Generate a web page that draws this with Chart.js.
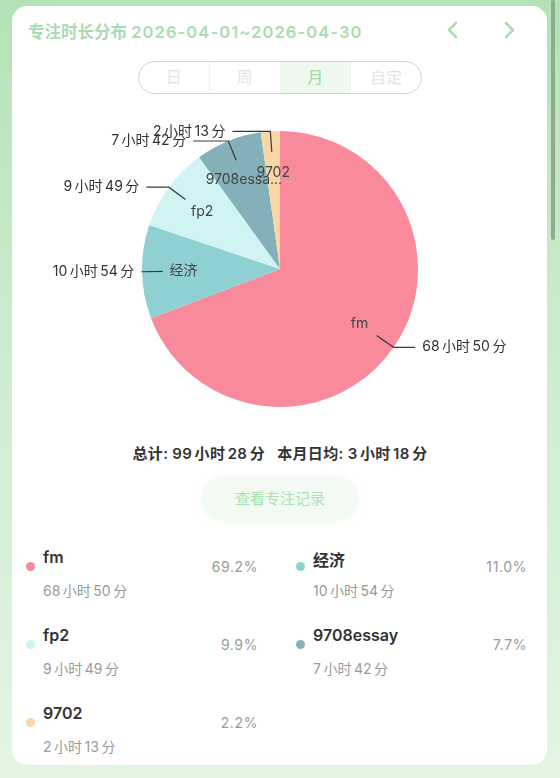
<!DOCTYPE html>
<html>
<head>
<meta charset="utf-8">
<script src="https://cdn.jsdelivr.net/npm/chart.js@4.4.1/dist/chart.umd.min.js"></script>
<style>
  html, body { margin: 0; padding: 0; }
  body {
    width: 560px; height: 778px; overflow: hidden; position: relative;
    background: linear-gradient(180deg, #b4e2b7 0%, #cdeccf 45%, #e4f5e4 100%);
    font-family: Inter, "Noto Sans CJK SC", sans-serif;
  }
  .card {
    position: absolute; left: 12px; top: 6px; width: 535px; height: 759px;
    background: #fff; border-radius: 15px;
  }
  .scrollbar {
    position: absolute; left: 551px; top: 0; width: 4px; height: 240px;
    background: #8fab91; border-radius: 2px;
  }
  .title {
    position: absolute; left: 28px; top: 19px; font-size: 16.5px; font-weight: 600;
    color: #a9dcb0; white-space: nowrap;
  }
  .title .date { letter-spacing: 1.1px; }
  .arrow { position: absolute; top: 21px; }
  .seg {
    position: absolute; left: 138px; top: 61px; width: 282px; height: 31px;
    border: 1px solid #bfe3c2; border-radius: 17px; overflow: hidden; display: flex;
  }
  .seg div {
    flex: 1; text-align: center; line-height: 31px; font-size: 16px; color: #e2e6e2;
    border-left: 1px solid #edf3ed;
  }
  .seg div:first-child { border-left: none; }
  .seg div.on { background: #eef8ef; color: #a6d6ac; }
  #chartBox { position: absolute; left: 0; top: 109px; width: 560px; height: 320px; }
  .total {
    position: absolute; left: 0; width: 560px; top: 442px; text-align: center;
    font-size: 15px; font-weight: 600; color: #333; white-space: pre; letter-spacing: 0.3px;
  }
  .btn {
    position: absolute; left: 203px; top: 478px; width: 154px; height: 42px;
    border-radius: 21px; background: #f3faf3; color: #ade0b3; font-size: 15px;
    text-align: center; line-height: 42px; box-shadow: 0 0 6px rgba(220, 240, 220, 0.7);
  }
  .item { position: absolute; width: 240px; height: 70px; }
  .item .dot { position: absolute; left: 0; width: 9px; height: 9px; border-radius: 50%; }
  .item .name { position: absolute; left: 17px; font-size: 16px; font-weight: 600; color: #333; }
  .item .time { position: absolute; left: 17px; font-size: 14px; color: #9a9a9a; white-space: nowrap; }
  .item .pct { position: absolute; font-size: 14px; color: #9a9a9a; text-align: right; letter-spacing: 0.6px; }
</style>
</head>
<body>
<div class="card"></div>
<div class="scrollbar"></div>
<div class="title"><span>专注时长分布</span> <span class="date">2026-04-01~2026-04-30</span></div>
<svg class="arrow" style="left:446px" width="14" height="18"><polyline points="10,2 3,9 10,16" fill="none" stroke="#a9dcb0" stroke-width="2.5" stroke-linecap="round" stroke-linejoin="round"/></svg>
<svg class="arrow" style="left:502px" width="14" height="18"><polyline points="4,2 11,9 4,16" fill="none" stroke="#a9dcb0" stroke-width="2.5" stroke-linecap="round" stroke-linejoin="round"/></svg>
<div class="seg" id="seg"></div>
<div id="chartBox"><canvas id="pieChart" width="560" height="320"></canvas></div>
<div class="total" id="total"></div>
<div class="btn">查看专注记录</div>
<div id="legend"></div>

<script>
// data (minutes per subject)
const categories = ["fm", "经济", "fp2", "9708essay", "9702"];
const minutes = [4130, 654, 589, 462, 133];
const colors = ["#f88a9c", "#8fd1d2", "#cff4f3", "#84b1b9", "#f8d6a5"];
const tabs = ["日", "周", "月", "自定"];
const activeTab = "月";
const daysInMonth = 30;

function fmt(m) {
  return Math.floor(m / 60) + "小时" + (m % 60) + "分";
}
// same text, but with the little gap iOS puts between digits and CJK
function fmtHTML(m) {
  return '<span style="margin-right:2.5px">' + Math.floor(m / 60) + '</span>小时' +
    '<span style="margin:0 2.5px">' + (m % 60) + '</span>分';
}
function shortName(s) {
  return s.length > 8 ? s.slice(0, 8) + "..." : s;
}

const totalMin = minutes.reduce((a, b) => a + b, 0);

// tabs
const seg = document.getElementById("seg");
tabs.forEach(function (t) {
  const d = document.createElement("div");
  d.textContent = t;
  if (t === activeTab) d.className = "on";
  seg.appendChild(d);
});

document.getElementById("total").innerHTML =
  "总计: " + fmtHTML(totalMin) + '<span style="margin-right:4px">  </span>本月日均: ' +
  fmtHTML(Math.floor(totalMin / daysInMonth));

// legend list below the pie
const legend = document.getElementById("legend");
categories.forEach(function (name, i) {
  const col = i % 2, row = Math.floor(i / 2);
  const item = document.createElement("div");
  item.className = "item";
  item.style.left = (26 + col * 270) + "px";
  item.style.top = (545 + row * 78) + "px";
  const pct = (minutes[i] / totalMin * 100).toFixed(1) + "%";
  item.innerHTML =
    '<div class="dot" style="top:17px;background:' + colors[i] + '"></div>' +
    '<div class="name" style="top:2px">' + name + '</div>' +
    '<div class="time" style="top:35px">' + fmtHTML(minutes[i]) + '</div>' +
    '<div class="pct" style="right:' + (col ? 9 : 8) + 'px;top:13px">' + pct + '</div>';
  legend.appendChild(item);
});

// draw text with small gaps between digit runs and CJK
function drawSpaced(ctx, text, x, y, align) {
  const gap = 2.5;
  const parts = text.split(/(\d+)/).filter(Boolean);
  const widths = parts.map((p) => ctx.measureText(p).width);
  const total = widths.reduce((a, b) => a + b, 0) + gap * (parts.length - 1);
  let cx = align === "right" ? x - total : x;
  ctx.textAlign = "left";
  parts.forEach(function (p, k) {
    ctx.fillText(p, cx, y);
    cx += widths[k] + gap;
  });
}

// names inside the slices, times outside with leader lines
const sliceLabels = {
  id: "sliceLabels",
  afterDatasetsDraw(chart) {
    const ctx = chart.ctx;
    const arcs = chart.getDatasetMeta(0).data;
    ctx.save();
    ctx.font = '14px Inter, "Noto Sans CJK SC", sans-serif';
    ctx.textBaseline = "middle";
    ctx.strokeStyle = "#3a3a3a";
    ctx.lineWidth = 1.2;
    arcs.forEach(function (arc, i) {
      const p = arc.getProps(["x", "y", "startAngle", "endAngle", "outerRadius"], true);
      const mid = (p.startAngle + p.endAngle) / 2;
      const cos = Math.cos(mid), sin = Math.sin(mid);
      const r = p.outerRadius;

      ctx.fillStyle = "#444";
      ctx.textAlign = "center";
      ctx.fillText(shortName(categories[i]), p.x + cos * r * 0.7, p.y + sin * r * 0.7);

      const dir = cos >= 0 ? 1 : -1;
      const x1 = p.x + cos * r * 0.85, y1 = p.y + sin * r * 0.85;
      const x2 = p.x + cos * r, y2 = p.y + sin * r;
      const x3 = x2 + dir * 38 * Math.abs(sin);
      ctx.beginPath();
      ctx.moveTo(x1, y1);
      ctx.lineTo(x2, y2);
      ctx.lineTo(x3, y2);
      ctx.stroke();

      ctx.fillStyle = "#333";
      drawSpaced(ctx, fmt(minutes[i]), x3 + dir * 7, y2, dir > 0 ? "left" : "right");
    });
    ctx.restore();
  }
};

new Chart(document.getElementById("pieChart"), {
  type: "pie",
  data: {
    labels: categories,
    datasets: [{
      data: minutes,
      backgroundColor: colors,
      borderWidth: 0
    }]
  },
  options: {
    responsive: false,
    animation: false,
    layout: { padding: { top: 22, bottom: 22 } },
    plugins: {
      legend: { display: false },
      tooltip: { enabled: false }
    }
  },
  plugins: [sliceLabels]
});
</script>
</body>
</html>
